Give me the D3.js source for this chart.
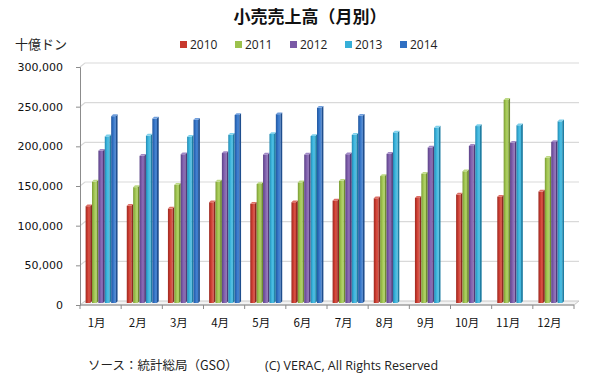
<!DOCTYPE html>
<html>
<head>
<meta charset="utf-8">
<script src="https://cdn.jsdelivr.net/npm/d3@7"></script>
<style>
  body { margin: 0; background: #fff; }
  svg { display: block; }
</style>
</head>
<body>
<div id="chart"></div>
<script>
// data (unit: 十億ドン)
const months = ["1月", "2月", "3月", "4月", "5月", "6月", "7月", "8月", "9月", "10月", "11月", "12月"];
const years = ["2010", "2011", "2012", "2013", "2014"];
const sales2010 = [122000, 122500, 119000, 127000, 125000, 127000, 129000, 132000, 132500, 136700, 134000, 140500];
const sales2011 = [153000, 146000, 149000, 153000, 150000, 152000, 154000, 160000, 163000, 166000, 256000, 183000];
const sales2012 = [192000, 185500, 187500, 189000, 187000, 187000, 187500, 188000, 196000, 198000, 202000, 203000];
const sales2013 = [210000, 211000, 209600, 212000, 213000, 210500, 212000, 215000, 221000, 223000, 224000, 229000];
const sales2014 = [235500, 232500, 231000, 237000, 238000, 246000, 236000, null, null, null, null, null];
const yTicks = [0, 50000, 100000, 150000, 200000, 250000, 300000];

const seriesList = [sales2010, sales2011, sales2012, sales2013, sales2014];
const colors = {
  "2010": { dark: "#9a2c23", mid: "#c8382d", light: "#d9564a", side: "#8e281f", top: "#dd6f66" },
  "2011": { dark: "#7a9a36", mid: "#9cc14c", light: "#b0d267", side: "#6f8d2f", top: "#bcd983" },
  "2012": { dark: "#5a4286", mid: "#7a59a6", light: "#8e70b8", side: "#513a7a", top: "#a088c6" },
  "2013": { dark: "#2288b0", mid: "#36afd8", light: "#52c0e3", side: "#1f7ea3", top: "#7dd0ec" },
  "2014": { dark: "#24589e", mid: "#2f6fc2", light: "#4a86d2", side: "#1f4e8e", top: "#6f9edc" }
};

const W = 589, H = 375;
const left = 80, right = 574, floorY = 305, topY = 67;
const dx = 5, dy = 4; // 3D depth offset of the walls

const svg = d3.select("#chart").append("svg")
  .attr("width", W).attr("height", H);

const defs = svg.append("defs");
years.forEach(yr => {
  const g = defs.append("linearGradient").attr("id", "g" + yr)
    .attr("x1", "0").attr("x2", "1").attr("y1", "0").attr("y2", "0");
  g.append("stop").attr("offset", "0").attr("stop-color", colors[yr].dark);
  g.append("stop").attr("offset", "0.4").attr("stop-color", colors[yr].mid);
  g.append("stop").attr("offset", "0.75").attr("stop-color", colors[yr].light);
  g.append("stop").attr("offset", "1").attr("stop-color", colors[yr].mid);
});

const x0 = d3.scaleBand().domain(months).range([left, right]).padding(0);
const x1 = d3.scaleBand().domain(years).range([0, x0.bandwidth()]).paddingInner(0).paddingOuter(0.72);
const y = d3.scaleLinear().domain([0, 300000]).range([floorY, topY]);

// floor
svg.append("path")
  .attr("d", `M${left},${floorY} L${left + dx},${floorY - dy} L${right + dx},${floorY - dy} L${right},${floorY} Z`)
  .attr("fill", "#f3f3f3").attr("stroke", "#c8c8c8").attr("stroke-width", 1);

// gridlines on left and back walls
svg.append("g").selectAll("path")
  .data(yTicks.filter(d => d > 0))
  .join("path")
  .attr("d", d => `M${left},${y(d)} L${left + dx},${y(d) - dy} L${right + dx},${y(d) - dy}`)
  .attr("fill", "none")
  .attr("stroke", "#d9d9d9")
  .attr("stroke-width", 1.2);

// bars (stand half way back on the floor)
const groups = svg.append("g").selectAll("g")
  .data(months)
  .join("g")
  .attr("transform", d => `translate(${x0(d) + 1},-2)`);

const d = 1.8; // bar depth
const bw = x1.bandwidth() - d;
groups.each(function (m, i) {
  const g = d3.select(this);
  years.forEach((yr, k) => {
    const v = seriesList[k][i];
    if (v == null) return;
    const bx = x1(yr), yt = y(v), yb = y(0);
    g.append("path")
      .attr("d", `M${bx + bw},${yt} L${bx + bw + d},${yt - d} L${bx + bw + d},${yb - d} L${bx + bw},${yb} Z`)
      .attr("fill", colors[yr].side);
    g.append("rect")
      .attr("x", bx).attr("y", yt)
      .attr("width", bw).attr("height", yb - yt)
      .attr("fill", `url(#g${yr})`);
    g.append("path")
      .attr("d", `M${bx},${yt} L${bx + d},${yt - d} L${bx + bw + d},${yt - d} L${bx + bw},${yt} Z`)
      .attr("fill", colors[yr].top);
  });
});

// y axis
const yAxis = svg.append("g")
  .attr("transform", `translate(${left},0)`)
  .call(d3.axisLeft(y).tickValues(yTicks).tickFormat(d3.format(",")).tickSize(4).tickPadding(13));
yAxis.select(".domain").attr("stroke", "#8c8c8c");
yAxis.selectAll(".tick line").attr("stroke", "#8c8c8c");
yAxis.selectAll("text")
  .attr("font-family", "DejaVu Sans")
  .attr("font-size", 11)
  .attr("fill", "#111");

// x axis
svg.append("line")
  .attr("x1", left).attr("x2", right).attr("y1", floorY).attr("y2", floorY)
  .attr("stroke", "#8c8c8c");
svg.append("g").selectAll("line")
  .data(months.map(m => x0(m)).concat([right]))
  .join("line")
  .attr("x1", d => d).attr("x2", d => d)
  .attr("y1", floorY).attr("y2", floorY + 4)
  .attr("stroke", "#8c8c8c");

svg.append("g").selectAll("text")
  .data(months)
  .join("text")
  .attr("x", m => x0(m) + x0.bandwidth() / 2 - 4)
  .attr("y", 327)
  .attr("text-anchor", "middle")
  .attr("font-family", "Noto Sans CJK JP")
  .attr("font-size", 11.5)
  .attr("fill", "#111")
  .text(m => m);

// title
svg.append("text")
  .attr("x", 310).attr("y", 23)
  .attr("text-anchor", "middle")
  .attr("font-family", "Noto Sans CJK JP")
  .attr("font-weight", "bold")
  .attr("font-size", 17)
  .attr("fill", "#111")
  .text("小売売上高（月別）");

// unit
svg.append("text")
  .attr("x", 15).attr("y", 49)
  .attr("font-family", "Noto Sans CJK JP")
  .attr("font-size", 13)
  .attr("fill", "#222")
  .text("十億ドン");

// legend
const legend = svg.append("g").selectAll("g")
  .data(years)
  .join("g")
  .attr("transform", (yr, i) => `translate(${180 + i * 55},45)`);
legend.append("rect")
  .attr("x", 0).attr("y", -4)
  .attr("width", 7).attr("height", 7)
  .attr("fill", yr => colors[yr].mid);
legend.append("text")
  .attr("x", 10).attr("y", 4)
  .attr("font-family", "Open Sans")
  .attr("font-size", 12)
  .attr("fill", "#222")
  .text(yr => yr);

// footer
svg.append("text")
  .attr("x", 88).attr("y", 370)
  .attr("font-family", "Noto Sans CJK JP")
  .attr("font-size", 12.5)
  .attr("fill", "#222")
  .text("ソース：統計総局（GSO）");
svg.append("text")
  .attr("x", 265).attr("y", 370)
  .attr("font-family", "Open Sans")
  .attr("font-size", 12.5)
  .attr("fill", "#222")
  .text("(C) VERAC, All Rights Reserved");
</script>
</body>
</html>
